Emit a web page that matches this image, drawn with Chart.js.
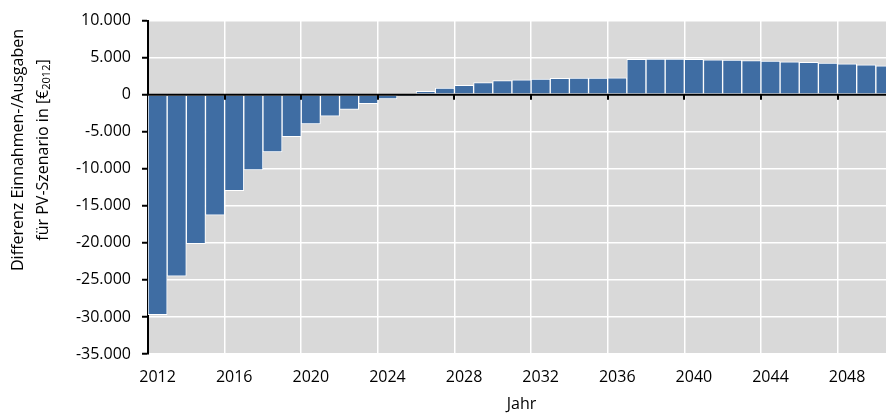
<!DOCTYPE html>
<html>
<head>
<meta charset="utf-8">
<script src="https://cdn.jsdelivr.net/npm/chart.js@4.4.1/dist/chart.umd.min.js"></script>
<style>
  html, body { margin: 0; padding: 0; background: #fff; overflow: hidden; width: 886px; height: 414px; }
  #wrap { width: 896px; height: 414px; }
</style>
</head>
<body>
<div id="wrap"><canvas id="c" width="896" height="414"></canvas></div>
<script>
// ---- data ----
const years = [2012,2013,2014,2015,2016,2017,2018,2019,2020,2021,2022,2023,2024,2025,2026,2027,2028,2029,2030,2031,2032,2033,2034,2035,2036,2037,2038,2039,2040,2041,2042,2043,2044,2045,2046,2047,2048,2049,2050];
const differenz = [-29700,-24500,-20100,-16250,-12960,-10150,-7730,-5680,-3940,-2900,-2000,-1200,-560,-50,450,880,1260,1620,1890,2020,2110,2200,2240,2250,2260,4780,4790,4790,4780,4720,4660,4600,4540,4450,4360,4270,4160,4040,3910];
const yTicks = [-35000,-30000,-25000,-20000,-15000,-10000,-5000,0,5000,10000];
const xTitle = 'Jahr';
const yTitleLine1 = 'Differenz Einnahmen-/Ausgaben';
const yTitleLine2 = ['für PV-Szenario in [€', '2012', ']'];

const FONT = '"Open Sans", "Liberation Sans", sans-serif';
const labelEvery = 4;

function fmtDE(v) {
  const s = Math.abs(v).toString().replace(/\B(?=(\d{3})+(?!\d))/g, '.');
  return (v < 0 ? '-' : '') + s;
}

const plotBg = {
  id: 'plotBg',
  beforeDraw(chart) {
    const {ctx, chartArea: a} = chart;
    ctx.save();
    ctx.fillStyle = '#D9D9D9';
    ctx.fillRect(a.left, a.top, a.right - a.left, a.bottom - a.top);
    ctx.restore();
  }
};

const zeroAxis = {
  id: 'zeroAxis',
  afterDatasetsDraw(chart) {
    const {ctx, chartArea: a, scales: {x, y}} = chart;
    const y0 = y.getPixelForValue(0);
    const half = (x.getPixelForTick(1) - x.getPixelForTick(0)) / 2;
    ctx.save();
    ctx.strokeStyle = '#000';
    ctx.lineWidth = 2;
    ctx.beginPath();
    ctx.moveTo(a.left, y0);
    ctx.lineTo(a.right, y0);
    ctx.stroke();
    for (let i = labelEvery; i < years.length; i += labelEvery) {
      const px = Math.round(x.getPixelForTick(i) - half);
      ctx.beginPath();
      ctx.moveTo(px, y0);
      ctx.lineTo(px, y0 + 5);
      ctx.stroke();
    }
    ctx.restore();
  }
};

const yTitle = {
  id: 'yTitle',
  afterDraw(chart) {
    const {ctx} = chart;
    const cy = 150;
    ctx.save();
    ctx.fillStyle = '#000';
    ctx.textBaseline = 'middle';
    ctx.translate(18, cy);
    ctx.rotate(-Math.PI / 2);
    ctx.font = '16px ' + FONT;
    ctx.textAlign = 'center';
    ctx.fillText(yTitleLine1, 0, 0);
    ctx.restore();

    ctx.save();
    ctx.fillStyle = '#000';
    ctx.textBaseline = 'middle';
    ctx.translate(43, cy);
    ctx.rotate(-Math.PI / 2);
    const big = '16px ' + FONT, small = '11px ' + FONT;
    ctx.font = big; const w1 = ctx.measureText(yTitleLine2[0]).width;
    ctx.font = small; const w2 = ctx.measureText(yTitleLine2[1]).width;
    ctx.font = big; const w3 = ctx.measureText(yTitleLine2[2]).width;
    let sx = -(w1 + w2 + w3) / 2;
    ctx.textAlign = 'left';
    ctx.font = big; ctx.fillText(yTitleLine2[0], sx, 0); sx += w1;
    ctx.font = small; ctx.fillText(yTitleLine2[1], sx, 4); sx += w2;
    ctx.font = big; ctx.fillText(yTitleLine2[2], sx, 0);
    ctx.restore();
  }
};

new Chart(document.getElementById('c'), {
  type: 'bar',
  data: {
    labels: years.map(String),
    datasets: [{
      data: differenz,
      backgroundColor: '#3F6DA3',
      borderColor: '#FFFFFF',
      borderWidth: 1,
      borderSkipped: false,
      barPercentage: 1,
      categoryPercentage: 1
    }]
  },
  options: {
    responsive: false,
    animation: false,
    devicePixelRatio: 1,
    layout: { padding: { top: 19, right: 1, left: 0, bottom: 0 } },
    plugins: { legend: { display: false }, tooltip: { enabled: false } },
    scales: {
      x: {
        type: 'category',
        offset: true,
        grid: {
          offset: true,
          drawTicks: false,
          lineWidth: 1.5,
          color: (c) => (c.index % labelEvery === 0 ? '#FFFFFF' : 'rgba(0,0,0,0)')
        },
        border: { display: false },
        ticks: {
          autoSkip: false,
          maxRotation: 0,
          padding: 14,
          color: '#000',
          font: { family: FONT, size: 16 },
          callback: function (val, idx) { return idx % labelEvery === 0 ? this.getLabelForValue(val) : ''; }
        },
        title: { display: true, text: xTitle, color: '#000', font: { family: FONT, size: 16 }, padding: { top: 2, bottom: 0 } },
        afterFit(s) { s.height = 60; s.paddingLeft = 0; s.paddingRight = 0; }
      },
      y: {
        min: -35000,
        max: 10000,
        afterBuildTicks(s) { s.ticks = yTicks.map(v => ({ value: v })); },
        grid: { color: '#FFFFFF', lineWidth: 1.5, tickLength: 6, tickColor: '#000', tickWidth: 2 },
        border: { display: true, color: '#000', width: 2 },
        ticks: {
          padding: 11,
          color: '#000',
          font: { family: FONT, size: 16 },
          callback: (v) => fmtDE(v)
        },
        afterFit(s) { s.width = 148; }
      }
    }
  },
  plugins: [plotBg, zeroAxis, yTitle]
});
</script>
</body>
</html>
